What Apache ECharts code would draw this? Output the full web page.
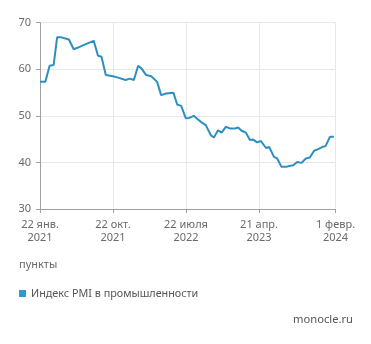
<!DOCTYPE html>
<html>
<head>
<meta charset="utf-8">
<script src="https://cdn.jsdelivr.net/npm/echarts@6/dist/echarts.min.js"></script>
<style>
html,body{margin:0;padding:0;background:#fff;}
#c{width:371px;height:344px;}
</style>
</head>
<body>
<div id="c"></div>
<script>
const dates = [
  '2021-01-22','2021-02-11','2021-02-27','2021-03-14','2021-03-27','2021-04-12','2021-05-10','2021-05-28',
  '2021-06-19','2021-07-12','2021-08-11','2021-08-27','2021-09-09','2021-09-25','2021-10-22','2021-11-10',
  '2021-12-08','2021-12-24','2022-01-08','2022-01-24','2022-02-05','2022-02-23','2022-03-14','2022-04-05',
  '2022-04-20','2022-05-09','2022-06-05','2022-06-19','2022-07-04','2022-07-21','2022-08-03','2022-08-20',
  '2022-09-05','2022-09-18','2022-10-04','2022-10-23','2022-11-03','2022-11-19','2022-12-02','2022-12-18',
  '2023-01-02','2023-01-21','2023-02-02','2023-02-15','2023-03-03','2023-03-18','2023-03-30','2023-04-14',
  '2023-04-28','2023-05-17','2023-05-29','2023-06-16','2023-06-28','2023-07-14','2023-07-31','2023-08-12',
  '2023-08-27','2023-09-11','2023-09-27','2023-10-13','2023-10-28','2023-11-13','2023-11-28','2023-12-15',
  '2023-12-26','2024-01-11','2024-01-26'
];
const pmi = [
  57.3,57.3,60.75,60.9,66.85,66.85,66.4,64.3,
  64.8,65.4,66.1,62.9,62.7,58.75,58.5,58.2,
  57.7,58.0,57.7,60.75,60.2,58.75,58.5,57.3,
  54.45,54.8,54.95,52.45,52.15,49.5,49.55,50.0,
  49.2,48.6,48.0,45.85,45.35,46.9,46.4,47.65,
  47.3,47.3,47.5,46.8,46.4,44.8,44.9,44.3,
  44.6,43.1,43.3,41.2,40.85,39.05,39.05,39.25,
  39.4,40.1,39.9,40.85,41.05,42.5,42.85,43.35,
  43.5,45.5,45.5
];
const tickDates = ['2021-01-22','2021-10-22','2022-07-22','2023-04-21','2024-02-01'];
const tickLabels = ['22 янв.\n2021','22 окт.\n2021','22 июля\n2022','21 апр.\n2023','1 февр.\n2024'];
const seriesName = 'Индекс PMI в промышленности';
const unitLabel = 'пункты';
const sourceLabel = 'monocle.ru';

const ts = s => { const p = s.split('-'); return Date.UTC(+p[0], +p[1]-1, +p[2]); };
const tickTs = tickDates.map(ts);
const font = '"Noto Sans", "Open Sans", sans-serif';
const chart = echarts.init(document.getElementById('c'), null, {renderer:'canvas'});
chart.setOption({
  animation:false,
  backgroundColor:'#fff',
  grid:{left:40, right:35.5, top:22.7, bottom:135, containLabel:false},
  xAxis:{
    type:'value', min:tickTs[0], max:tickTs[tickTs.length-1], scale:true,
    axisLine:{show:true, onZero:false, lineStyle:{color:'#a0a0a0', width:1}},
    axisTick:{show:true, length:4, lineStyle:{color:'#a0a0a0'}, customValues:tickTs},
    splitLine:{show:true, lineStyle:{color:'#e8e8e8', width:1}},
    axisLabel:{
      customValues:tickTs, color:'#6a6a6a', fontSize:11, fontFamily:font, lineHeight:13, margin:9,
      showMinLabel:true, showMaxLabel:true, hideOverlap:false,
      formatter:v => { const i = tickTs.indexOf(v); return i >= 0 ? tickLabels[i] : ''; }
    }
  },
  yAxis:{
    type:'value', min:30, max:70, interval:10,
    axisLine:{show:true, lineStyle:{color:'#a0a0a0', width:1}},
    axisTick:{show:true, length:4, lineStyle:{color:'#a0a0a0'}},
    splitLine:{show:true, lineStyle:{color:'#e8e8e8', width:1}},
    axisLabel:{color:'#6a6a6a', fontSize:11, fontFamily:font, margin:9}
  },
  legend:{
    show:true, left:14, top:283, icon:'rect', itemWidth:7, itemHeight:7, itemGap:10,
    textStyle:{color:'#555', fontSize:10.8, fontFamily:font},
    data:[seriesName]
  },
  graphic:[
    {type:'text', left:19, top:259, style:{text:unitLabel, fill:'#6a6a6a', fontSize:11, fontFamily:font}},
    {type:'text', right:18, top:314, style:{text:sourceLabel, fill:'#555', fontSize:11.2, fontFamily:font}}
  ],
  series:[{
    name:seriesName, type:'line', symbol:'none',
    data:dates.map((d,i)=>[ts(d), pmi[i]]),
    lineStyle:{color:'#2d8fc0', width:2},
    itemStyle:{color:'#2d9bd0'}
  }]
});
</script>
</body>
</html>
